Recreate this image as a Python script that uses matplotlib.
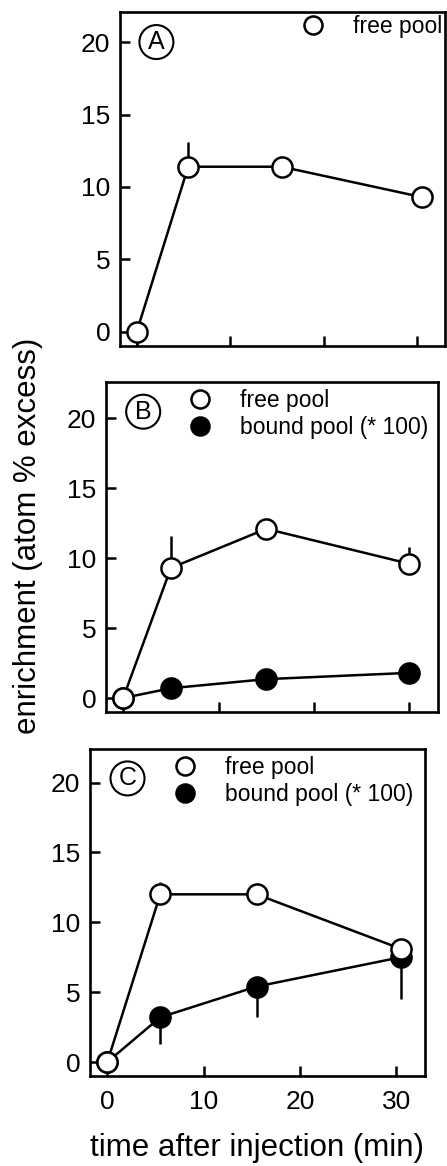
import numpy as np
import matplotlib.pyplot as plt
from matplotlib.lines import Line2D

plt.rcParams['font.family'] = ['Liberation Sans', 'DejaVu Sans']

# panel A: free pool only
time_A = [0, 5.5, 15.5, 30.5]
free_A = [0, 11.4, 11.4, 9.3]
free_A_up = [0, 1.7, 0.0, 0.3]
free_A_down = [0.9, 0, 0, 0]

# panel B
time_B = [0, 5, 15, 30]
free_B = [0, 9.3, 12.1, 9.6]
free_B_err = [0, 2.3, 0.0, 1.2]
bound_B = [0, 0.7, 1.35, 1.8]
bound_B_err = [0, 0, 0, 0]

# panel C
time_C = [0, 5.5, 15.5, 30.5]
free_C = [0, 12.0, 12.0, 8.1]
free_C_err = [0, 0.9, 0.6, 0.0]
bound_C = [0, 3.2, 5.4, 7.5]
bound_C_err = [0, 1.9, 2.2, 3.0]

panel_names = ['A', 'B', 'C']
legend_free = 'free pool'
legend_bound = 'bound pool (* 100)'
xticks = [0, 10, 20, 30]
yticks = [0, 5, 10, 15, 20]

W, H = 447, 1166
fig = plt.figure(figsize=(W / 100, H / 100), dpi=100)

# axes boxes in pixels: left, right, top, bottom
boxes = [(120, 445, 12, 346), (106, 438, 382, 712), (90, 425, 749, 1076)]
axs = []
for l, r, t, b in boxes:
    ax = fig.add_axes([l / W, 1 - b / H, (r - l) / W, (b - t) / H])
    axs.append(ax)

ms = 14.5
lw = 1.8


def draw(ax, t, y, lo, hi, filled):
    ax.errorbar(t, y, yerr=[lo, hi], fmt='none', ecolor='black', elinewidth=lw,
                capsize=0, zorder=2)
    ax.plot(t, y, '-', color='black', lw=lw, marker='o', ms=ms,
            mfc='black' if filled else 'white', mec='black', mew=lw, zorder=3)


zero4 = [0, 0, 0, 0]
draw(axs[0], time_A, free_A, free_A_down, free_A_up, False)
draw(axs[1], time_B, bound_B, bound_B_err, zero4, True)
draw(axs[1], time_B, free_B, zero4, free_B_err, False)
draw(axs[2], time_C, bound_C, bound_C_err, zero4, True)
draw(axs[2], time_C, free_C, zero4, free_C_err, False)

ylims = [(-1.0, 22.1), (-1.0, 22.6), (-1.0, 22.4)]
for i, ax in enumerate(axs):
    ax.set_xlim(-1.8, 33.0)
    ax.set_ylim(*ylims[i])
    ax.set_xticks(xticks)
    ax.set_yticks(yticks)
    ax.tick_params(direction='in', length=7, width=1.8, labelsize=19, pad=7)
    ax.tick_params(axis='x', pad=10)
    for s in ax.spines.values():
        s.set_linewidth(1.9)
    if i < 2:
        ax.set_xticklabels([])
    ax.text(0.112, 0.91, panel_names[i], transform=ax.transAxes, fontsize=18,
            ha='center', va='center',
            bbox=dict(boxstyle='circle,pad=0.2', fc='white', ec='black', lw=1.5))

h_free = Line2D([], [], ls='none', marker='o', ms=13, mfc='white', mec='black', mew=lw)
h_bound = Line2D([], [], ls='none', marker='o', ms=13, mfc='black', mec='black', mew=lw)

leg_kw = dict(loc='upper left', frameon=False, fontsize=16.5, handlelength=2.0,
              handletextpad=0.75, labelspacing=0.2, borderpad=0, borderaxespad=0)
axs[0].legend([h_free], [legend_free], bbox_to_anchor=(0.523, 0.99), **leg_kw)
axs[1].legend([h_free, h_bound], [legend_free, legend_bound],
              bbox_to_anchor=(0.214, 0.98), **leg_kw)
axs[2].legend([h_free, h_bound], [legend_free, legend_bound],
              bbox_to_anchor=(0.215, 0.98), **leg_kw)

axs[2].set_xlabel('time after injection (min)', fontsize=22.5, labelpad=14)
fig.text(28 / W, 1 - 536 / H, 'enrichment (atom % excess)', rotation=90,
         fontsize=22.5, ha='center', va='center')

fig.savefig('out.png', dpi=100)
